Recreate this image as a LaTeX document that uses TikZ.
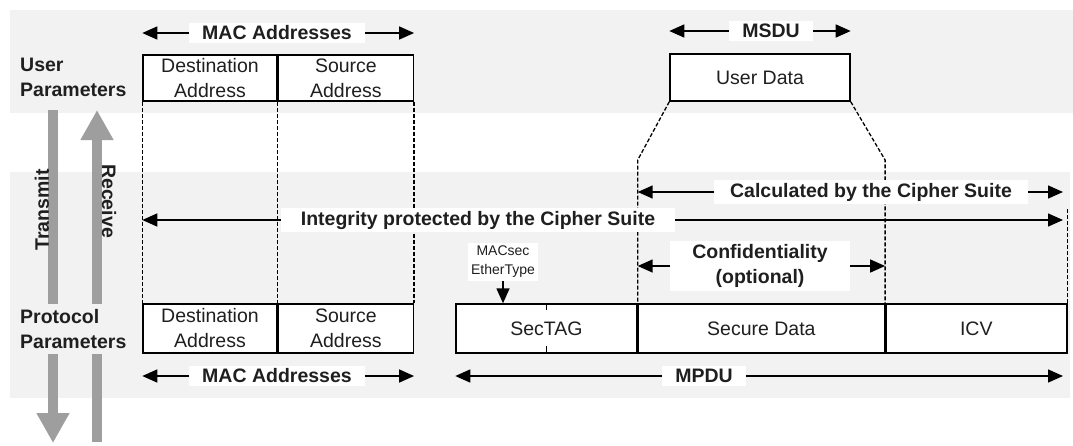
\documentclass[tikz,border=0pt]{standalone}
\usepackage{fontspec}
\setmainfont{Liberation Sans}
\usetikzlibrary{arrows.meta}

\definecolor{bandgray}{RGB}{242,242,242}
\definecolor{arrowgray}{RGB}{158,158,158}
\newcommand{\diagfont}{\fontsize{19.5}{25}\selectfont}

\tikzset{
  fieldbox/.style={draw, line width=1.4pt, fill=white, align=center, inner sep=0pt},
  labelbox/.style={fill=white, font=\diagfont\bfseries, inner xsep=13pt, inner ysep=3pt, align=center},
  spanarrow/.style={line width=1.5pt, -{Triangle[length=15pt,width=13pt]}},
  guideline/.style={line width=1.3pt, dash pattern=on 4pt off 2pt},
  flowarrow/.style={line width=10pt, draw=arrowgray, -{Triangle[length=30pt,width=31pt]}},
}

\begin{document}
\begin{tikzpicture}[x=1pt, y=-1pt, font=\diagfont, text=black!88]
\useasboundingbox (0,0) rectangle (1073,445);
% bands
\fill[bandgray] (10,10) rectangle (1073,113);
\fill[bandgray] (10,172) rectangle (1070,398);

% gray transmit / receive arrows
\coordinate (txtop) at (53,110);
\coordinate (txend) at (53,443);
\coordinate (rxbot) at (97,442);
\coordinate (rxend) at (97,110);
\draw[flowarrow] (txtop) -- (txend);
\draw[flowarrow] (rxbot) -- (rxend);
\node[rotate=90, font=\diagfont\bfseries] (txlabel) at (42,210) {Transmit};
\node[rotate=-90, font=\diagfont\bfseries] (rxlabel) at (109,201) {Receive};
\node[font=\diagfont\bfseries, align=left, anchor=west, inner xsep=2pt] (userpar) at (18,77) {User\\Parameters};
\node[font=\diagfont\bfseries, align=left, anchor=west, inner xsep=2pt, inner ysep=5pt, fill=bandgray] (protopar) at (18,329) {Protocol\\Parameters};

% frame fields
\node[fieldbox, minimum width=134pt, minimum height=46pt] (dau) at (210,78) {Destination\\Address};
\node[fieldbox, minimum width=135pt, minimum height=46pt, anchor=west] (sau) at (dau.east) {Source\\Address};
\node[fieldbox, minimum width=180pt, minimum height=47pt] (ud) at (760,77.5) {User Data};
\node[fieldbox, minimum width=134pt, minimum height=49pt] (dap) at (210,328.5) {Destination\\Address};
\node[fieldbox, minimum width=135pt, minimum height=49pt, anchor=west] (sap) at (dap.east) {Source\\Address};
\node[fieldbox, minimum width=181pt, minimum height=49pt] (st) at (546.5,328.5) {SecTAG};
\node[fieldbox, minimum width=246pt, minimum height=49pt, anchor=west] (sd) at (st.east) {Secure Data};
\node[fieldbox, minimum width=181pt, minimum height=49pt, anchor=west] (icv) at (sd.east) {ICV};
\draw[line width=1.4pt] (st.north) -- ++(0,7) (st.south) -- ++(0,-8);

% dashed guides
\coordinate (bend) at (0,160);
\coordinate (icvtop) at (1063,208);
\draw[guideline] (dau.south west) -- (dap.north west);
\draw[guideline] (dau.south east) -- (dap.north east);
\draw[guideline] (sau.south east) -- (sap.north east);
\draw[guideline] (ud.south west) -- (sd.north west |- bend) -- (sd.north west);
\draw[guideline] (ud.south east) -- (sd.north east |- bend) -- (sd.north east);
\draw[guideline] (icv.north east) -- (icv.north east |- icvtop);

% labels
\node[labelbox] (mactop) at (277,33) {MAC Addresses};
\node[labelbox] (msdu) at (771,31) {MSDU};
\node[labelbox, inner xsep=16pt] (calc) at (871,192) {Calculated by the Cipher Suite};
\node[labelbox, inner xsep=20pt] (integ) at (478,220) {Integrity protected by the Cipher Suite};
\node[labelbox, inner xsep=22pt] (conf) at (760,266) {Confidentiality\\(optional)};
\node[labelbox] (macbot) at (277,376) {MAC Addresses};
\node[labelbox] (mpdu) at (704,376) {MPDU};
\node[fill=white, inner sep=3pt, align=center, font=\fontsize{14}{19}\selectfont] (etype) at (503,262) {MACsec\\EtherType};

% span arrows
\draw[spanarrow] (mactop) -- (mactop -| dau.west);
\draw[spanarrow] (mactop) -- (mactop -| sau.east);
\draw[spanarrow] (msdu) -- (msdu -| ud.west);
\draw[spanarrow] (msdu) -- (msdu -| ud.east);
\draw[spanarrow] (calc) -- (calc -| sd.west);
\draw[spanarrow] (calc) -- (calc -| icvtop);
\draw[spanarrow] (integ) -- (integ -| dau.west);
\draw[spanarrow] (integ) -- (integ -| icvtop);
\draw[spanarrow] (conf) -- (conf -| sd.west);
\draw[spanarrow] (conf) -- (conf -| sd.east);
\draw[spanarrow] (macbot) -- (macbot -| dap.west);
\draw[spanarrow] (macbot) -- (macbot -| sap.east);
\draw[spanarrow] (mpdu) -- (mpdu -| st.west);
\draw[spanarrow] (mpdu) -- (mpdu -| icvtop);
\draw[spanarrow] (etype) -- (etype |- st.north);
\end{tikzpicture}
\end{document}
